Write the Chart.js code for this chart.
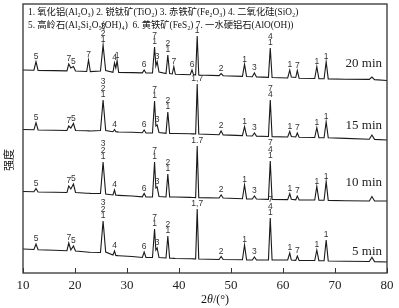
<!DOCTYPE html>
<html>
<head>
<meta charset="utf-8">
<script src="https://cdn.jsdelivr.net/npm/chart.js@4.4.1/dist/chart.umd.min.js"></script>
<style>
  html, body { margin: 0; padding: 0; background: #fff; }
  #wrap { width: 399px; height: 308px; }
</style>
</head>
<body>
<div id="wrap"><canvas id="xrdChart"></canvas></div>
<script>
// 2θ positions (deg): baseline points, peak feet and peak tops
const twoTheta = [
  10, 12.1, 12.5, 12.9, 16, 18.45, 18.8, 19.2, 19.7, 20.1,
  22.25, 22.6, 22.95, 24.9, 25.4, 25.9, 27.3, 27.6, 27.85, 28.1,
  28.4, 31, 32.95, 33.3, 33.65, 34.9, 35.3, 35.55, 35.8, 36.15,
  37.5, 37.85, 38.2, 38.7, 39.0, 39.3, 42.15, 42.5, 42.8, 43.2,
  43.5, 43.8, 47.7, 48.1, 48.5, 52.2, 52.6, 53.0, 54.1, 54.5,
  54.9, 57.2, 57.55, 57.9, 60.9, 61.3, 61.6, 62.45, 62.75, 63.1,
  66.1, 66.5, 66.9, 67.9, 68.3, 68.7, 72, 76.6, 77.1, 77.6,
  80
];

// intensities (a.u.) of each pattern, same order as twoTheta
const int5min = [
  14, 13.5, 19, 13.2, 12.8, 12.3, 20, 13, 17, 12,
  11, 10.8, 10.7, 10.5, 42, 11, 8, 12, 7.5, 7.4,
  7.3, 6.5, 5.5, 11, 5.5, 5.5, 34, 13, 15, 5.5,
  5, 27, 4.8, 4.7, 4.6, 4.5, 4.2, 4.2, 4.1, 4,
  54, 4, 3.5, 6.5, 3.5, 3.2, 18, 3, 3, 6,
  3, 3, 45, 3, 3, 10, 3, 2.6, 7, 2.5,
  2.5, 13, 2.3, 2.2, 23, 2, 1.8, 1.5, 5.7, 1.4,
  1
];
const int10min = [
  10.5, 10.2, 13.5, 10, 9.8, 9.5, 16, 13, 18, 9.5,
  8.8, 8.7, 8.6, 8.5, 40, 8, 7, 12, 6.8, 6.7,
  6.6, 6, 5.2, 8.5, 5, 5, 40, 14, 15, 5.5,
  5, 28, 5, 5, 5, 5, 4.6, 4.5, 4.5, 4.4,
  56, 4.4, 4, 7, 4, 3.2, 17, 3.1, 3, 6,
  3, 2.6, 41, 2.5, 2.4, 8.5, 2.8, 2.2, 6, 2.1,
  2, 15.5, 1.8, 1.7, 20.5, 1.6, 1.3, 1, 5.5, 1,
  1
];
const int15min = [
  11.5, 11.2, 18.3, 11, 10.8, 10.5, 15, 13, 17.5, 10.5,
  10.2, 10.1, 10, 10.5, 41, 10.5, 9.3, 11.5, 9.2, 9.1,
  9, 8.8, 8.2, 11, 8, 8, 40, 15, 16, 8.5,
  7.7, 29, 7.6, 7.5, 7.5, 7.5, 7.2, 7.1, 7.1, 7,
  57, 7, 6.2, 10, 6.1, 5.4, 14.3, 5.3, 5, 8,
  4.9, 4.5, 41, 4.4, 4, 9.5, 4.5, 4, 8, 3.8,
  3.5, 13.3, 3.4, 3.3, 19.3, 3.2, 2.6, 1.8, 6, 1.6,
  1
];
const int20min = [
  11, 10.8, 19.3, 10.6, 10.4, 10.1, 17, 13, 14.5, 10,
  9.5, 21, 9.4, 10, 36, 10.5, 8.6, 18, 13, 20.3,
  8.5, 8.4, 8.1, 11, 8, 8, 34, 15, 19.3, 9,
  7.5, 26, 7.4, 7, 14.3, 6.7, 6.3, 11, 6.2, 6.1,
  45, 6, 5.4, 7.5, 5.3, 4.6, 16.7, 4.5, 4.2, 8,
  4.1, 3.6, 33, 3.5, 3, 11, 4, 3.5, 10.5, 2.8,
  2.5, 14.3, 2.3, 2.2, 19.3, 2.1, 1.8, 1.6, 4, 1.4,
  0.5
];

const seriesNames = ["5 min", "10 min", "15 min", "20 min"];
const stackOffsets = [10, 71, 132, 192];
const xTicks = [10, 20, 30, 40, 50, 60, 70, 80];

// phase labels written above the peaks: [2θ, labels from top to bottom]
const labels5min = [
  [12.5, ["5"]], [18.8, ["7"]], [19.7, ["5"]], [25.4, ["3", "2", "1"]], [27.6, ["4"]],
  [33.3, ["6"]], [35.3, ["7", "1"]], [35.8, ["3"]], [37.85, ["2", "1"]], [43.5, ["1,7"]],
  [48.1, ["2"]], [52.6, ["1"]], [54.5, ["3"]], [57.55, ["7", "4", "1"]], [61.3, ["1"]],
  [62.75, ["7"]], [66.5, ["1"]], [68.3, ["1"]]
];
const labels10min = [
  [12.5, ["5"]], [18.8, ["7"]], [19.7, ["5"]], [25.4, ["3", "2", "1"]], [27.6, ["4"]],
  [33.3, ["6"]], [35.3, ["7", "1"]], [35.8, ["3"]], [37.85, ["2", "1"]], [43.5, ["1.7"]],
  [48.1, ["2"]], [52.6, ["1"]], [54.5, ["3"]], [57.55, ["7", "4", "1"]], [61.3, ["1"]],
  [62.75, ["7"]], [66.5, ["1"]], [68.3, ["1"]]
];
const labels15min = [
  [12.5, ["5"]], [18.8, ["7"]], [19.7, ["5"]], [25.4, ["3", "2", "1"]], [27.6, ["4"]],
  [33.3, ["6"]], [35.3, ["7", "1"]], [35.8, ["3"]], [37.85, ["2", "1"]], [43.5, ["1,7"]],
  [48.1, ["2"]], [52.6, ["1"]], [54.5, ["3"]], [57.55, ["7", "4"]], [61.3, ["1"]],
  [62.75, ["7"]], [66.5, ["1"]], [68.3, ["1"]]
];
const labels20min = [
  [12.5, ["5"]], [18.8, ["7"]], [19.7, ["5"]], [22.6, ["7"]], [25.4, ["3", "2", "1"]],
  [27.6, ["4"]], [28.1, ["1"]], [33.3, ["6"]], [35.3, ["7", "1"]], [35.8, ["3"]],
  [37.85, ["2", "1"]], [39.0, ["7"]], [42.5, ["6"]], [43.5, ["1"]], [48.1, ["2"]],
  [52.6, ["1"]], [54.5, ["3"]], [57.55, ["4", "1"]], [61.3, ["1"]], [62.75, ["7"]],
  [66.5, ["1"]], [68.3, ["1"]]
];

const legendLines = [
  "1. 氧化铝(Al\u2082O\u2083) 2. 锐钛矿(TiO\u2082) 3. 赤铁矿(Fe\u2082O\u2083) 4. 二氧化硅(SiO\u2082)",
  "5. 高岭石(Al\u2082Si\u2082O\u2085(OH)\u2084)  6. 黄铁矿(FeS\u2082) 7. 一水硬铝石(AlO(OH))"
];

const allIntensities = [int5min, int10min, int15min, int20min];
const allLabels = [labels5min, labels10min, labels15min, labels20min];

const datasets = allIntensities.map((vals, k) => ({
  label: seriesNames[k],
  data: twoTheta.map((t, i) => ({ x: t, y: vals[i] + stackOffsets[k] })),
  borderColor: "#1a1a1a",
  borderWidth: 1.1,
  pointRadius: 0,
  tension: 0,
  fill: false
}));

const SERIF = "'Liberation Serif', 'Noto Sans CJK SC', serif";

const decorations = {
  id: "decorations",
  afterDraw(chart) {
    const { ctx, chartArea: a, scales: { x, y } } = chart;
    ctx.save();

    // frame
    ctx.strokeStyle = "#333";
    ctx.lineWidth = 1.3;
    ctx.strokeRect(a.left, a.top, a.right - a.left, a.bottom - a.top);

    // inward ticks on the bottom axis
    ctx.lineWidth = 1;
    xTicks.forEach((t) => {
      const px = Math.round(x.getPixelForValue(t)) + 0.5;
      ctx.beginPath();
      ctx.moveTo(px, a.bottom);
      ctx.lineTo(px, a.bottom - 5);
      ctx.stroke();
    });

    // phase labels
    ctx.fillStyle = "#333";
    ctx.font = "8.5px 'Liberation Sans', sans-serif";
    ctx.textAlign = "center";
    ctx.textBaseline = "middle";
    allLabels.forEach((list, k) => {
      list.forEach(([t, lines]) => {
        const i = twoTheta.indexOf(t);
        const px = x.getPixelForValue(t);
        const top = y.getPixelForValue(allIntensities[k][i] + stackOffsets[k]);
        lines.forEach((s, j) => {
          const yy = top - 5 - (lines.length - 1 - j) * 6.5;
          ctx.fillText(s, px, yy);
        });
      });
    });

    // series names
    ctx.fillStyle = "#222";
    ctx.font = "13px " + SERIF;
    ctx.textAlign = "right";
    const nameY = [251.5, 182.5, 126, 63.5];
    seriesNames.forEach((n, k) => ctx.fillText(n, 382, nameY[k]));

    // legend text
    ctx.textAlign = "left";
    ctx.font = "9.3px " + SERIF;
    ctx.fillStyle = "#111";
    ctx.fillText(legendLines[0], 28, 13);
    ctx.fillText(legendLines[1], 28, 26);

    // axis titles
    ctx.font = "12px " + SERIF;
    const parts = ["2", "θ", "/(°)"];
    const w0 = ctx.measureText(parts[0]).width;
    ctx.font = "italic 12px " + SERIF;
    const w1 = ctx.measureText(parts[1]).width;
    ctx.font = "12px " + SERIF;
    const w2 = ctx.measureText(parts[2]).width;
    let sx = 215 - (w0 + w1 + w2) / 2;
    ctx.fillText(parts[0], sx, 300);
    ctx.font = "italic 12px " + SERIF;
    ctx.fillText(parts[1], sx + w0, 300);
    ctx.font = "12px " + SERIF;
    ctx.fillText(parts[2], sx + w0 + w1, 300);

    ctx.translate(9, 160);
    ctx.rotate(-Math.PI / 2);
    ctx.textAlign = "center";
    ctx.font = "11px 'Noto Sans CJK SC', sans-serif";
    ctx.fillText("强度", 0, 0);
    ctx.restore();
  }
};

new Chart(document.getElementById("xrdChart"), {
  type: "line",
  data: { datasets },
  options: {
    responsive: true,
    maintainAspectRatio: false,
    animation: false,
    layout: { padding: { left: 23, right: 12, top: 4, bottom: 0 } },
    plugins: { legend: { display: false }, tooltip: { enabled: false } },
    scales: {
      x: {
        type: "linear",
        min: 10,
        max: 80,
        afterBuildTicks: (scale) => {
          scale.ticks = xTicks.map((v) => ({ value: v }));
        },
        afterFit: (scale) => {
          scale.height = 35;
        },
        grid: { display: false, drawTicks: false },
        border: { display: false },
        ticks: {
          color: "#222",
          padding: 5,
          maxRotation: 0,
          font: { family: "'Liberation Serif', serif", size: 13 }
        }
      },
      y: {
        display: false,
        min: 0,
        max: 269
      }
    }
  },
  plugins: [decorations]
});
</script>
</body>
</html>
